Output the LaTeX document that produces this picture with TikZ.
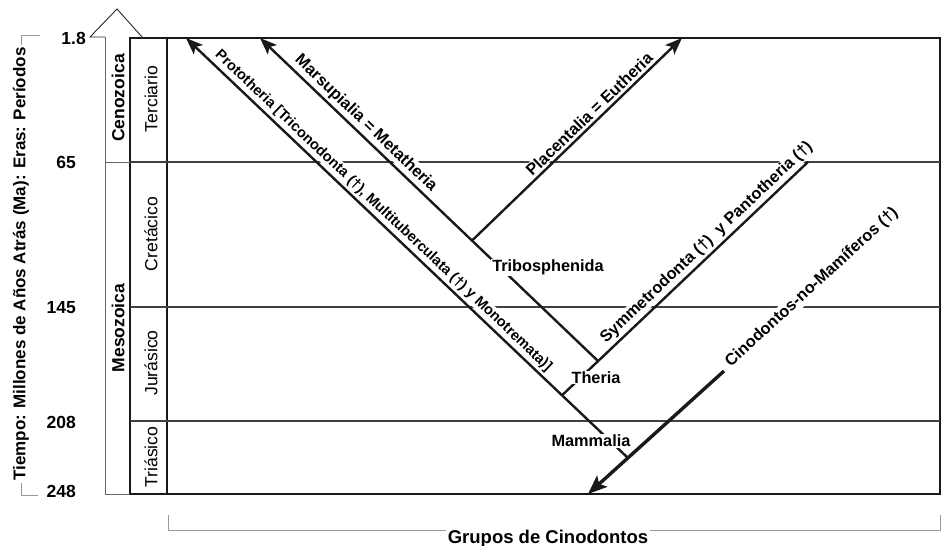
\documentclass[tikz,border=0pt]{standalone}
\usepackage{fontspec}
\setmainfont{Liberation Sans}
\usetikzlibrary{arrows.meta,positioning}

\begin{document}
\begin{tikzpicture}[x=1pt, y=-1pt,
    >={Stealth[length=17pt, width=13pt, inset=4pt]},
    boxline/.style={line width=1.4pt, draw=black!90},
    ageline/.style={line width=1.3pt, draw=black!75},
    eraline/.style={line width=0.8pt, draw=black!60},
    bracket/.style={line width=0.9pt, draw=black!40},
    clado/.style={line width=2.4pt, draw=black!90},
    lbl/.style={font=\fontsize{16.3}{18}\selectfont\bfseries, fill=white, inner sep=1pt},
    period/.style={font=\fontsize{17.6}{19}\selectfont, rotate=90, inner sep=1pt},
    era/.style={font=\fontsize{17.5}{19}\selectfont\bfseries, rotate=90, inner sep=1pt},
    age/.style={font=\fontsize{17.5}{19}\selectfont\bfseries, anchor=east, inner sep=0pt},
    axislbl/.style={font=\fontsize{17}{19}\selectfont\bfseries, fill=white, inner sep=2pt},
]
\useasboundingbox (0,0) rectangle (945,546);

% Time frame
\draw[boxline] (130,38) rectangle (940,494);
\draw[boxline] (167,38) -- (167,494);
\foreach \y in {162,307,421}
    \draw[ageline] (130,\y) -- (940,\y);

% Era column with arrow head
\draw[eraline] (130,494) -- (105,494) -- (105,37);
\draw[eraline] (105,162) -- (130,162);
\draw[line width=0.9pt, black!85] (105,37) -- (90,37) -- (117,9) -- (143,38);

% Ages, eras and periods
\node[age] (a18) at (86,38) {1.8};
\foreach \a/\y in {65/162.5,145/307.5,208/422.5,248/491.5}
    \node[age] (a\a) at (76,\y) {\a};
\node[era] (ceno) at (118,98) {Cenozoica};
\node[era] (meso) at (118,328) {Mesozoica};
\foreach \name/\y/\id in {Terciario/99/ter,Cretácico/234/cre,Jurásico/363/jur,Triásico/457/tri}
    \node[period] (\id) at (151,\y) {\name};

% Axis titles
\draw[bracket] (40,35) -- (21,35) -- (21,495) -- (38,495);
\node[axislbl, rotate=90] (ytitle) at (21,264) {Tiempo: Millones de Años Atrás (Ma): Eras: Períodos};
\draw[bracket] (168,515) -- (168,530) -- (940,530) -- (940,515);
\node[axislbl, font=\fontsize{18.5}{20}\selectfont\bfseries] (xtitle) at (548,539) {Grupos de Cinodontos};

% Cladogram
\coordinate (mam) at (628,458);
\coordinate (proto) at (186,38);
\coordinate (ther) at (562,395.3);
\coordinate (symm) at (808,162);
\coordinate (trib) at (598,361);
\coordinate (marsu) at (260,38);
\coordinate (plac0) at (472,240.6);
\coordinate (placen) at (682,38);
\coordinate (cino) at (724,371);
\coordinate (cinoend) at (588,494);

\draw[clado, <-] (proto) -- node[lbl, sloped, above=1.5pt, pos=0.43, font=\fontsize{14.5}{16}\selectfont\bfseries]
    {Prototheria [Triconodonta (†), Multituberculata (†) y Monotremata)]} (mam);
\draw[clado, <-] (marsu) -- node[lbl, sloped, above=1.5pt, pos=0.29] {Marsupialia = Metatheria} (trib);
\draw[clado, ->] (plac0) -- node[lbl, sloped, above=1.5pt, pos=0.59] {Placentalia = Eutheria} (placen);
\draw[clado] (ther) -- node[lbl, sloped, above=1.5pt, pos=0.62] {Symmetrodonta (†)~~y Pantotheria (†)} (symm);
\draw[clado, line width=3.4pt, -{Stealth[length=19pt, width=15pt, inset=4pt]}] (cino) -- (cinoend);
\node[lbl, rotate=42.4, anchor=west] (cinolbl) at (727,365) {Cinodontos-no-Mamíferos (†)};

% Node names
\node[lbl] (tribl) at (548,267.5) {Tribosphenida};
\node[lbl] (therl) at (596,377.5) {Theria};
\node[lbl] (maml) at (591,441) {Mammalia};

\end{tikzpicture}
\end{document}
